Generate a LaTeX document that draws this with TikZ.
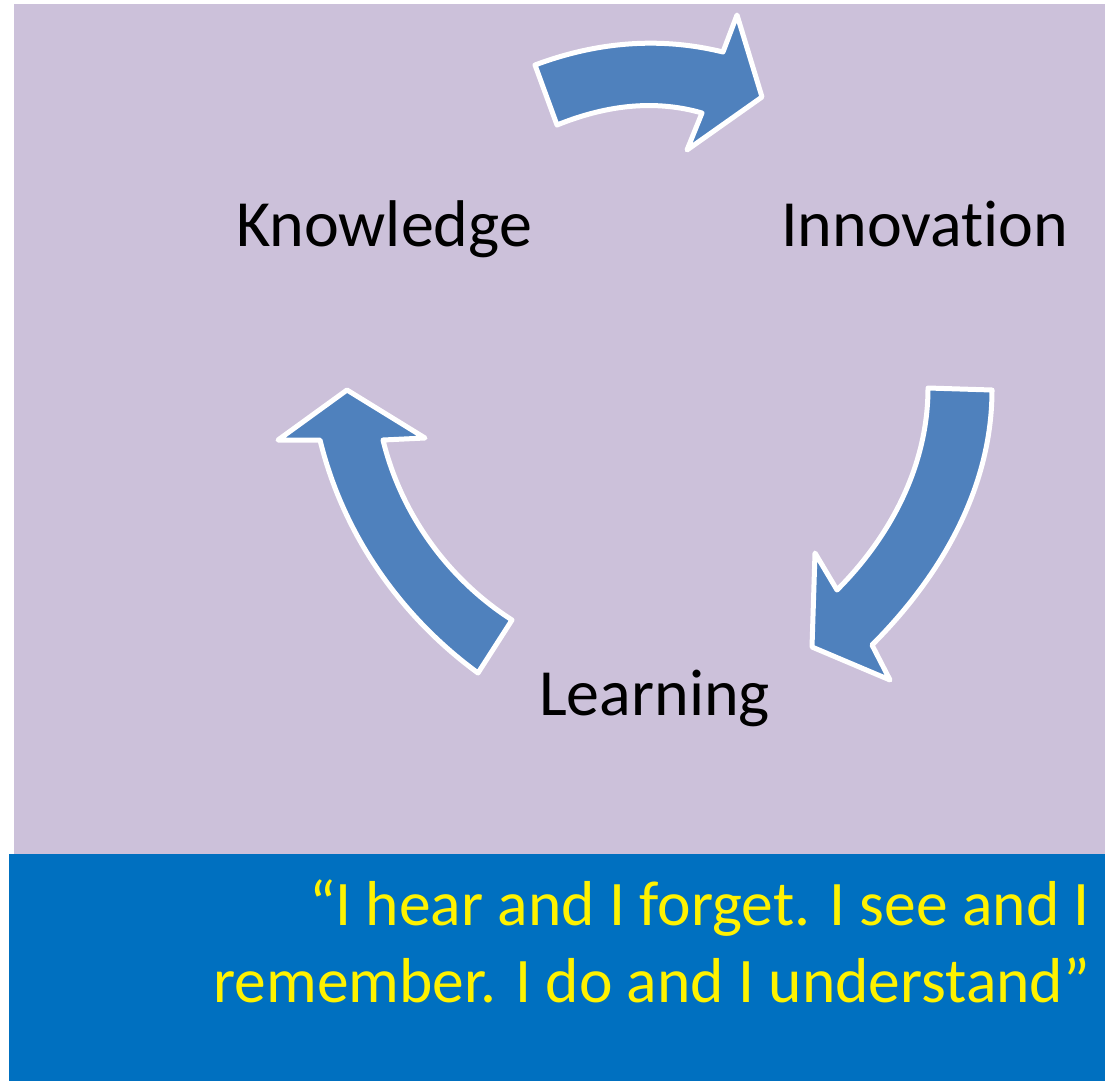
\documentclass[tikz,border=0pt]{standalone}
\usepackage{fontspec}
\setmainfont{Carlito}[Ligatures=NoCommon]
\definecolor{lav}{RGB}{204,193,218}
\definecolor{arrowblue}{RGB}{79,129,189}
\definecolor{barblue}{RGB}{0,112,192}
\begin{document}
\begin{tikzpicture}[x=1pt,y=-1pt,
  cyc/.style={fill=arrowblue, draw=white, line width=5pt, line join=round},
  lbl/.style={font=\fontsize{66}{78}\selectfont, text=black, inner sep=0pt, anchor=base west},
  quotetxt/.style={font=\fontsize{63.5}{78}\selectfont, text=yellow, inner sep=0pt, anchor=base east}]
\fill[white] (0,0) rectangle (1105,1081);
\useasboundingbox (0,0) rectangle (1105,1081);
\fill[lav] (14,4) rectangle (1105,854);
\fill[barblue] (9,854) rectangle (1105,1081);
% arrows
\path[cyc] (535,65) .. controls (599,41) and (662,37) .. (723,52) -- (737,15) -- (762,97) -- (687,150) -- (702,113) .. controls (657,100) and (609,104) .. (557,125) -- cycle;
\path[cyc] (928,388) -- (992,390) .. controls (992,488) and (941,576) .. (872,645) -- (890,680) -- (812,647) -- (815,553) -- (837,590) .. controls (891,536) and (928,465) .. (928,388) -- cycle;
\path[cyc] (512,620) -- (478,673) .. controls (400,616) and (343,534) .. (320,440) -- (278,440) -- (347,390) -- (425,438) -- (383,440) .. controls (401,514) and (448,579) .. (512,620) -- cycle;
% labels
\node[lbl] (know) at (236,246) {Knowledge};
\node[lbl] (innov) at (781,246) {Innovation};
\node[lbl] (learn) at (539,715) {Learning};
\node[quotetxt] (q1) at (1090,925) {“I hear and I forget. I see and I};
\node[quotetxt] (q2) at (1090,1002) {remember. I do and I understand”};
\end{tikzpicture}
\end{document}
